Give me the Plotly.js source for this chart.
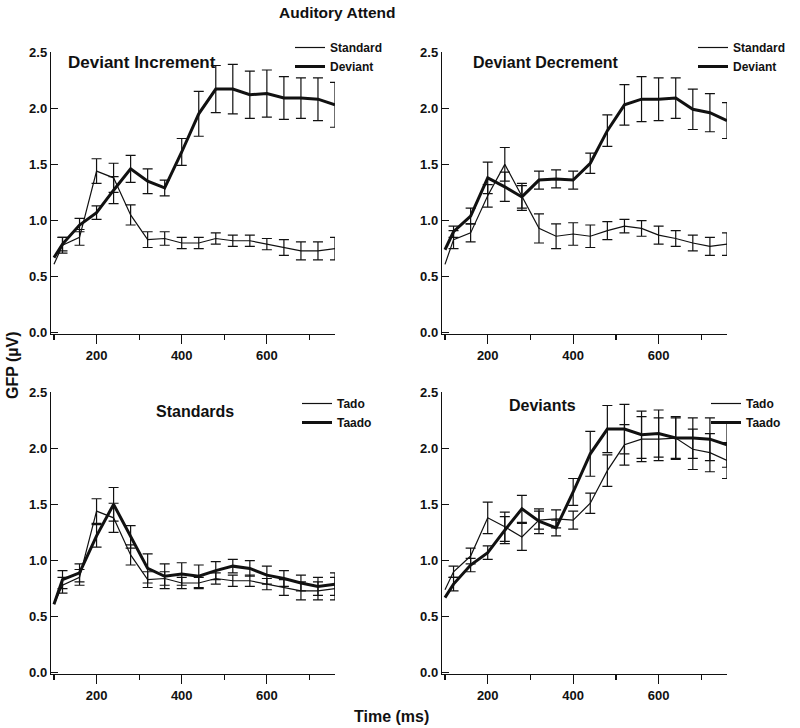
<!DOCTYPE html>
<html>
<head>
<meta charset="utf-8">
<script src="https://cdn.plot.ly/plotly-3.0.1.min.js"></script>
<style>
  body { margin: 0; background: #fff; }
  #chart { width: 800px; height: 728px; }
</style>
</head>
<body>
<div id="chart"></div>
<script>
// Temps (ms) : premier point sans barre d'erreur
const time = [100, 120, 160, 200, 240, 280, 320, 360, 400, 440, 480, 520, 560, 600, 640, 680, 720, 760];

// Deviant Increment (Tado)
const incStd    = [0.61, 0.78, 0.85, 1.44, 1.38, 1.05, 0.83, 0.84, 0.80, 0.80, 0.84, 0.82, 0.82, 0.79, 0.76, 0.73, 0.73, 0.75];
const incStdErr = [NaN, 0.07, 0.07, 0.11, 0.13, 0.09, 0.07, 0.06, 0.05, 0.05, 0.05, 0.05, 0.05, 0.05, 0.07, 0.08, 0.08, 0.10];
const incDev    = [0.67, 0.79, 0.96, 1.07, 1.27, 1.46, 1.35, 1.29, 1.61, 1.95, 2.17, 2.17, 2.12, 2.13, 2.09, 2.09, 2.08, 2.03];
const incDevErr = [NaN, 0.06, 0.06, 0.06, 0.12, 0.12, 0.11, 0.07, 0.12, 0.20, 0.21, 0.22, 0.21, 0.21, 0.19, 0.18, 0.19, 0.20];

// Deviant Decrement (Taado)
const decStd    = [0.61, 0.83, 0.89, 1.22, 1.50, 1.21, 0.93, 0.86, 0.88, 0.86, 0.91, 0.95, 0.93, 0.87, 0.84, 0.80, 0.77, 0.79];
const decStdErr = [NaN, 0.08, 0.08, 0.10, 0.15, 0.10, 0.13, 0.11, 0.10, 0.10, 0.08, 0.06, 0.07, 0.08, 0.07, 0.07, 0.08, 0.10];
const decDev    = [0.74, 0.90, 1.04, 1.38, 1.30, 1.21, 1.36, 1.37, 1.36, 1.51, 1.80, 2.03, 2.08, 2.08, 2.09, 1.99, 1.96, 1.89];
const decDevErr = [NaN, 0.05, 0.07, 0.14, 0.13, 0.12, 0.08, 0.08, 0.08, 0.09, 0.14, 0.18, 0.20, 0.19, 0.18, 0.18, 0.17, 0.16];

const ink = '#111111';
const thin = 1.2;
const thick = 3;

// une courbe avec barres d'erreur
function serie(name, y, err, width, xa, ya, leg) {
    return {
        x: time, y: y, name: name, type: 'scatter', mode: 'lines',
        line: { color: ink, width: width },
        error_y: { type: 'data', array: err, visible: true, color: ink, thickness: 1.2, width: 5 },
        xaxis: xa, yaxis: ya, legend: leg, cliponaxis: false
    };
}

const data = [
    serie('Standard', incStd, incStdErr, thin, 'x', 'y', 'legend'),
    serie('Deviant', incDev, incDevErr, thick, 'x', 'y', 'legend'),
    serie('Standard', decStd, decStdErr, thin, 'x2', 'y2', 'legend2'),
    serie('Deviant', decDev, decDevErr, thick, 'x2', 'y2', 'legend2'),
    serie('Tado', incStd, incStdErr, thin, 'x3', 'y3', 'legend3'),
    serie('Taado', decStd, decStdErr, thick, 'x3', 'y3', 'legend3'),
    serie('Tado', decDev, decDevErr, thin, 'x4', 'y4', 'legend4'),
    serie('Taado', incDev, incDevErr, thick, 'x4', 'y4', 'legend4')
];

const tickFont = { family: 'Liberation Sans, Arial', size: 13, color: ink, weight: 'bold' };

function xAxe(dom, anchor) {
    return {
        domain: dom, anchor: anchor, range: [93, 760],
        showgrid: false, zeroline: false, showline: true, linecolor: ink, linewidth: 1.2,
        tickmode: 'array', tickvals: [200, 400, 600],
        ticks: 'outside', ticklen: 9, tickwidth: 1.2, tickcolor: ink,
        minor: { tickmode: 'array', tickvals: [100, 300, 500, 700], ticks: 'outside', ticklen: 5, tickwidth: 1.2, tickcolor: ink },
        tickfont: tickFont
    };
}

function yAxe(dom, anchor) {
    return {
        domain: dom, anchor: anchor, range: [-0.01, 2.5],
        showgrid: false, zeroline: false, showline: true, linecolor: ink, linewidth: 1.2,
        tickmode: 'array', tickvals: [0, 0.5, 1, 1.5, 2, 2.5], ticktext: ['0.0', '0.5', '1.0', '1.5', '2.0', '2.5'],
        ticks: 'inside', ticklen: 7, tickwidth: 1.2, tickcolor: ink,
        tickfont: tickFont
    };
}

const legFont = { family: 'Liberation Sans, Arial', size: 12, color: ink, weight: 'bold' };
function leg(x, y) {
    return { x: x, y: y, xanchor: 'left', yanchor: 'top', font: legFont, bgcolor: 'rgba(0,0,0,0)', tracegroupgap: 0, itemwidth: 30 };
}

const colLeft = [51 / 800, 335 / 800];
const colRight = [442 / 800, 727 / 800];
const rowTop = [(728 - 334) / 728, (728 - 52) / 728];
const rowBottom = [(728 - 674) / 728, (728 - 392) / 728];

const titleFont = { family: 'Liberation Sans, Arial', size: 16, color: ink, weight: 'bold' };
function note(text, x, y, size) {
    return { text: text, x: x / 800, y: 1 - y / 728, xref: 'paper', yref: 'paper', showarrow: false,
        xanchor: 'center', yanchor: 'middle',
        font: Object.assign({}, titleFont, { size: size || 16 }) };
}

const layout = {
    width: 800, height: 728,
    margin: { l: 0, r: 0, t: 0, b: 0 },
    paper_bgcolor: '#ffffff', plot_bgcolor: '#ffffff',
    showlegend: true,
    xaxis: xAxe(colLeft, 'y'), yaxis: yAxe(rowTop, 'x'),
    xaxis2: xAxe(colRight, 'y2'), yaxis2: yAxe(rowTop, 'x2'),
    xaxis3: xAxe(colLeft, 'y3'), yaxis3: yAxe(rowBottom, 'x3'),
    xaxis4: xAxe(colRight, 'y4'), yaxis4: yAxe(rowBottom, 'x4'),
    legend: leg(290 / 800, 1 - 33 / 728),
    legend2: leg(693 / 800, 1 - 33 / 728),
    legend3: leg(297 / 800, 1 - 389 / 728),
    legend4: leg(706 / 800, 1 - 389 / 728),
    annotations: [
        note('Auditory Attend', 337, 12, 15.5),
        note('Deviant Increment', 142, 62, 17),
        note('Deviant Decrement', 546, 62),
        note('Standards', 195, 411),
        note('Deviants', 542, 405),
        note('Time (ms)', 391, 716),
        Object.assign(note('GFP (µV)', 12, 365), { textangle: -90 })
    ]
};

Plotly.newPlot('chart', data, layout, { displayModeBar: false, staticPlot: true });
</script>
</body>
</html>
